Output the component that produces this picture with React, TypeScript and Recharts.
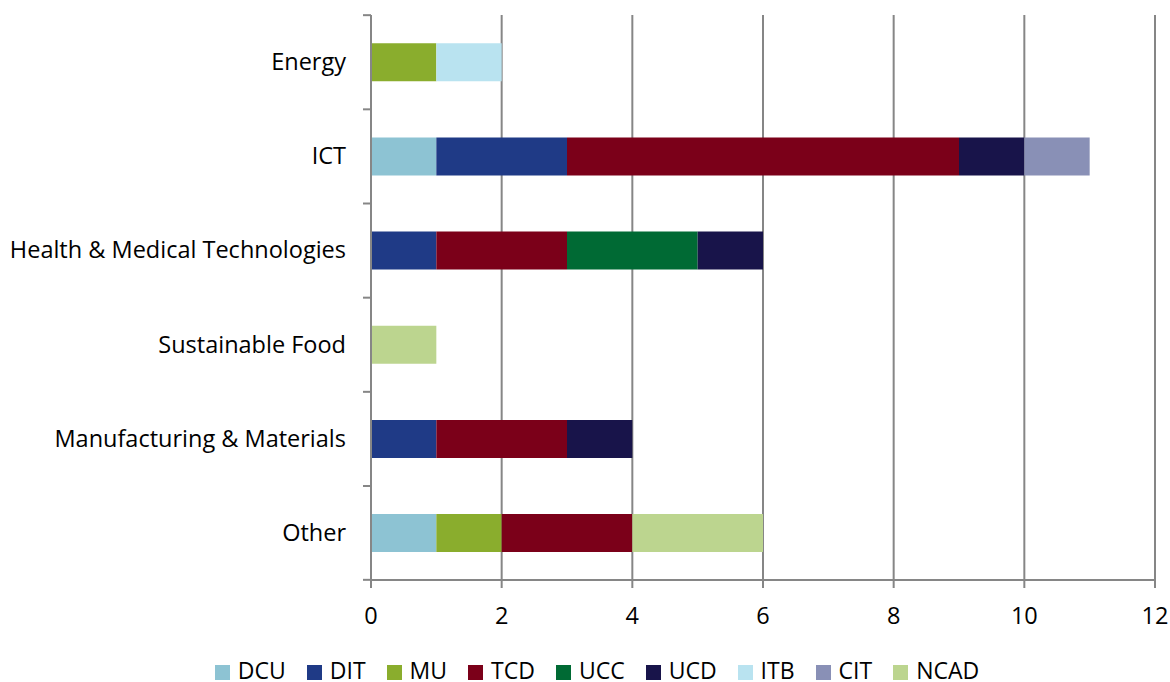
import React from 'react'
import {
  BarChart,
  Bar,
  XAxis,
  YAxis,
  CartesianGrid,
  Legend
} from 'recharts'

const categories = [
  'Energy',
  'ICT',
  'Health & Medical Technologies',
  'Sustainable Food',
  'Manufacturing & Materials',
  'Other'
]

const institutions = ['DCU', 'DIT', 'MU', 'TCD', 'UCC', 'UCD', 'ITB', 'CIT', 'NCAD']

// one array per institution, in category order
const DCU = [0, 1, 0, 0, 0, 1]
const DIT = [0, 2, 1, 0, 1, 0]
const MU = [1, 0, 0, 0, 0, 1]
const TCD = [0, 6, 2, 0, 2, 2]
const UCC = [0, 0, 2, 0, 0, 0]
const UCD = [0, 1, 1, 0, 1, 0]
const ITB = [1, 0, 0, 0, 0, 0]
const CIT = [0, 1, 0, 0, 0, 0]
const NCAD = [0, 0, 0, 1, 0, 2]

const xTicks = [0, 2, 4, 6, 8, 10, 12]

const COLORS: Record<string, string> = {
  DCU: '#8dc3d3',
  DIT: '#1f3a86',
  MU: '#8aad2d',
  TCD: '#7b0019',
  UCC: '#006a34',
  UCD: '#18144a',
  ITB: '#b9e3f0',
  CIT: '#8990b6',
  NCAD: '#bcd58f'
}

const seriesValues: Record<string, number[]> = { DCU, DIT, MU, TCD, UCC, UCD, ITB, CIT, NCAD }

const data = categories.map((name, i) => {
  const row: any = { name }
  institutions.forEach(k => {
    row[k] = seriesValues[k][i]
  })
  return row
})

const FONT = '"Open Sans", Lato, sans-serif'
const WIDTH = 1170
const HEIGHT = 682
const TOP = 15
const PLOT_LEFT = 371
const PLOT_BOTTOM = 578
const BAND = (PLOT_BOTTOM - TOP) / categories.length
const AXIS_GRAY = '#868686'

function CategoryTick(props: any) {
  const { y, payload, index } = props
  const isLast = index === categories.length - 1
  return (
    <g>
      <line x1={PLOT_LEFT - 8} x2={PLOT_LEFT} y1={y - BAND / 2} y2={y - BAND / 2} stroke={AXIS_GRAY} strokeWidth={2} />
      {isLast && (
        <line x1={PLOT_LEFT - 8} x2={PLOT_LEFT} y1={y + BAND / 2} y2={y + BAND / 2} stroke={AXIS_GRAY} strokeWidth={2} />
      )}
      <text x={PLOT_LEFT - 25} y={y} dy={8} textAnchor="end" fill="#000" fontSize={23.5} fontFamily={FONT}>
        {payload.value}
      </text>
    </g>
  )
}

export default function App() {
  return (
    <div style={{ position: 'absolute', left: 0, top: 0, background: '#fff' }}>
      <BarChart
        width={WIDTH}
        height={HEIGHT}
        data={data}
        layout="vertical"
        barCategoryGap="30%"
        margin={{ top: TOP, right: 15, left: 0, bottom: 38 }}
      >
        <CartesianGrid horizontal={false} stroke={AXIS_GRAY} strokeWidth={2} />
        <XAxis
          type="number"
          domain={[0, 12]}
          ticks={xTicks}
          height={40}
          axisLine={{ stroke: AXIS_GRAY, strokeWidth: 2 }}
          tickLine={{ stroke: AXIS_GRAY, strokeWidth: 2 }}
          tickSize={8}
          tick={{ fill: '#000', fontSize: 23.5, fontFamily: FONT }}
          tickMargin={19}
        />
        <YAxis
          type="category"
          dataKey="name"
          width={PLOT_LEFT}
          axisLine={{ stroke: AXIS_GRAY, strokeWidth: 2 }}
          tickLine={false}
          tick={<CategoryTick />}
          interval={0}
        />
        <Legend
          verticalAlign="bottom"
          align="center"
          iconType="square"
          iconSize={15}
          itemSorter={(item: any) => institutions.indexOf(item.value)}
          wrapperStyle={{ fontFamily: FONT, fontSize: 23, lineHeight: '24px', bottom: 0, paddingLeft: 60, boxSizing: 'border-box' }}
          formatter={(value: string) => (
            <span style={{ color: '#000', marginLeft: 4, marginRight: 11 }}>{value}</span>
          )}
        />
        {institutions.map(k => (
          <Bar key={k} dataKey={k} stackId="a" fill={COLORS[k]} isAnimationActive={false} />
        ))}
      </BarChart>
    </div>
  )
}
